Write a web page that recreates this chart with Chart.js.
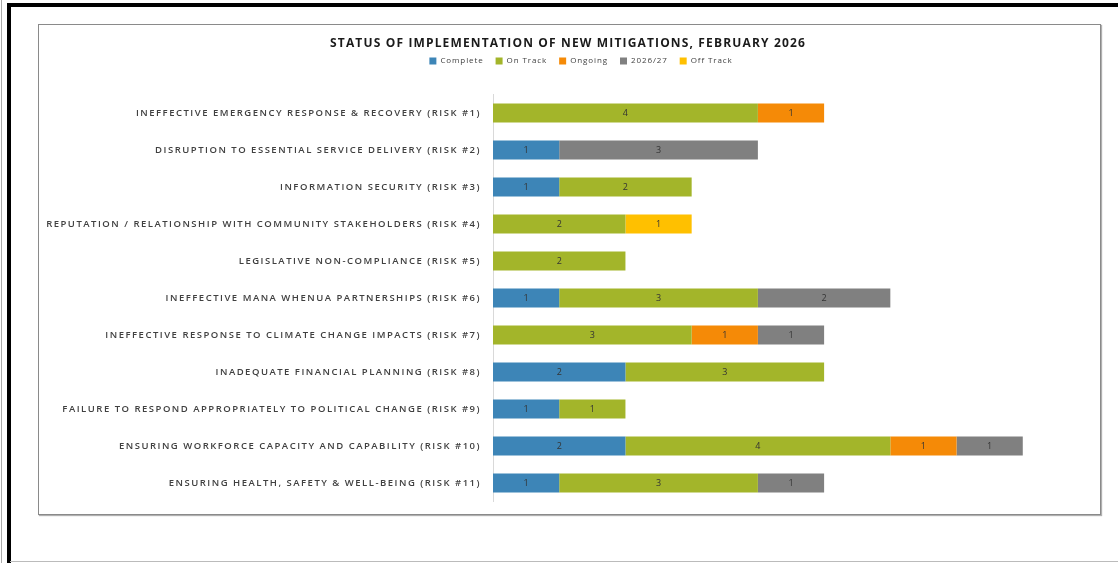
<!DOCTYPE html>
<html><head><meta charset="utf-8">
<script src="https://cdn.jsdelivr.net/npm/chart.js@4.4.1/dist/chart.umd.min.js"></script>
<style>
html,body{margin:0;padding:0;background:#fff;width:1118px;height:563px;overflow:hidden;position:relative}
.f{position:absolute}
#box{position:absolute;left:38px;top:24px;width:1061px;height:489px;border:1px solid #8a8a8a;box-shadow:1px 1px 1px #b0b0b0;background:#fff}
#c{display:block}
</style></head><body>
<div class="f" style="left:1px;top:0;width:1px;height:563px;background:#aaa"></div>
<div class="f" style="left:7px;top:3px;width:4px;height:560px;background:#000"></div>
<div class="f" style="left:7px;top:3px;width:1111px;height:4px;background:#000"></div>
<div class="f" style="left:10px;top:561px;width:1108px;height:1px;background:#bbb"></div>
<div id="box"><canvas id="c" width="1061" height="489"></canvas></div>
<script>
const categories = [
  "INEFFECTIVE EMERGENCY RESPONSE & RECOVERY (RISK #1)",
  "DISRUPTION TO ESSENTIAL SERVICE DELIVERY (RISK #2)",
  "INFORMATION SECURITY (RISK #3)",
  "REPUTATION / RELATIONSHIP WITH COMMUNITY STAKEHOLDERS (RISK #4)",
  "LEGISLATIVE NON-COMPLIANCE (RISK #5)",
  "INEFFECTIVE MANA WHENUA PARTNERSHIPS (RISK #6)",
  "INEFFECTIVE RESPONSE TO CLIMATE CHANGE IMPACTS (RISK #7)",
  "INADEQUATE FINANCIAL PLANNING (RISK #8)",
  "FAILURE TO RESPOND APPROPRIATELY TO POLITICAL CHANGE (RISK #9)",
  "ENSURING WORKFORCE CAPACITY AND CAPABILITY (RISK #10)",
  "ENSURING HEALTH, SAFETY & WELL-BEING (RISK #11)"
];
const complete = [null,1,1,null,null,1,null,2,1,2,1];
const onTrack  = [4,null,2,2,2,3,3,3,1,4,3];
const ongoing  = [1,null,null,null,null,null,1,null,null,1,null];
const y2026_27 = [null,3,null,null,null,2,1,null,null,1,1];
const offTrack = [null,null,null,1,null,null,null,null,null,null,null];
const seriesNames = ["Complete","On Track","Ongoing","2026/27","Off Track"];
const seriesColors = ["#3d85b7","#a3b52a","#f58a07","#808080","#ffc000"];
const titleText = "STATUS OF IMPLEMENTATION OF NEW MITIGATIONS, FEBRUARY 2026";

const FONT = "'Open Sans', sans-serif";
const TICK_SPACING = '1.5px';
function wrapBox(box, sp, dx){
  if (!box) return;
  const d = box.draw.bind(box), u = box.update.bind(box);
  box.draw = function(a){
    const ctx = this.ctx; ctx.save(); ctx.letterSpacing = sp; ctx.translate(dx,0); d(a); ctx.restore();
  };
  box.update = function(...args){
    const ctx = this.ctx; const old = ctx.letterSpacing; ctx.letterSpacing = sp;
    const r = u(...args); ctx.letterSpacing = old; return r;
  };
}
const spacing = {
  id:'spacing',
  afterInit(c){ wrapBox(c.titleBlock,'1.15px',4); wrapBox(c.legend,'0.9px',17); },
  beforeUpdate(c){ c.ctx.letterSpacing=TICK_SPACING; },
  beforeLayout(c){ c.ctx.letterSpacing=TICK_SPACING; },
  beforeDraw(c){ c.ctx.letterSpacing=TICK_SPACING; }
};
const barLabels = {
  id:'barLabels',
  afterDatasetsDraw(chart){
    const ctx = chart.ctx;
    ctx.save();
    ctx.letterSpacing='0px';
    ctx.font = "9px " + FONT;
    ctx.fillStyle = '#333';
    ctx.textAlign = 'center';
    ctx.textBaseline = 'middle';
    chart.data.datasets.forEach((ds,i)=>{
      const meta = chart.getDatasetMeta(i);
      if (meta.hidden) return;
      meta.data.forEach((el,j)=>{
        const v = ds.data[j];
        if (v == null) return;
        const p = el.getProps(['x','base','y'], true);
        ctx.fillText(String(v), (p.x + p.base)/2, p.y + 0.5);
      });
    });
    ctx.restore();
  }
};
const values = [complete,onTrack,ongoing,y2026_27,offTrack];
new Chart(document.getElementById('c'), {
  type:'bar',
  data:{
    labels: categories,
    datasets: values.map((d,i)=>({
      label: seriesNames[i], data: d, backgroundColor: seriesColors[i],
      borderWidth: 0, categoryPercentage: 1, barPercentage: 0.52
    }))
  },
  plugins:[spacing, barLabels],
  options:{
    indexAxis:'y', responsive:false, animation:false,
    layout:{padding:{left:0,right:11,top:0,bottom:12.5}},
    plugins:{
      title:{display:true,text:titleText,color:'#1a1a1a',
        font:{family:FONT,size:12,weight:'bold'},padding:{top:11.8,bottom:-6.2}},
      legend:{position:'top',labels:{boxWidth:7,boxHeight:7,padding:12,color:'#404040',
        font:{family:FONT,size:8}}},
      tooltip:{enabled:false}
    },
    scales:{
      x:{stacked:true,min:0,max:9,position:'top',
        grid:{display:false,drawTicks:false},border:{display:false},ticks:{display:false},
        afterFit(s){ s.height = 19.5; }},
      y:{stacked:true,grid:{display:false,drawTicks:false},border:{display:true,color:'#d9d9d9'},
        ticks:{font:{family:FONT,size:9.5,weight:'600'},color:'#404040',padding:12,autoSkip:false},
        afterFit(s){ s.width = 454; s.paddingTop = 0; s.paddingBottom = 0; }}
    }
  }
});
</script>
</body></html>
